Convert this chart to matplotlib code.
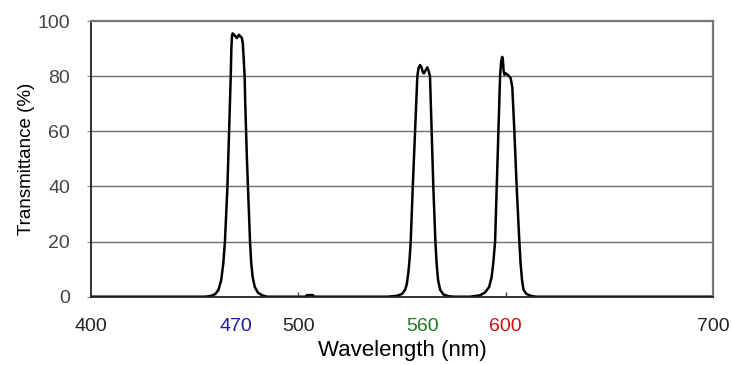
import matplotlib
matplotlib.use('Agg')
import matplotlib.pyplot as plt

# transmittance curve (nm, %)
wavelength = [400, 455,
              458, 460, 461.5, 462.8, 463.8, 464.6, 465.2, 465.8, 466.2, 466.6,
              467.0, 467.4, 467.7, 468.0, 468.3, 469.0, 469.6, 470.3, 471.0, 471.4,
              472.0, 472.7, 473.2, 473.6, 474.1, 474.4, 474.8, 475.2, 475.7, 476.2,
              476.7, 477.3, 478.0, 479.0, 480.5, 482.5, 485.0,
              503.5, 504.2, 507.0, 507.6,
              543, 547.5, 550, 551.5, 552.3, 553.1, 553.7, 554.2, 555.2, 556.3,
              557.4, 558.0, 558.7, 559.3, 560.0, 560.6, 561.3, 562.2, 562.8, 563.5,
              564.3, 565.1, 566.1, 566.7, 567.4, 568.4, 570, 572.4, 575,
              583, 587.6, 590, 592.0, 593.2, 594.0, 594.9, 595.7, 596.5, 597.3,
              597.8, 598.3, 598.6, 599.0, 599.4, 600.0, 601.3, 602.4, 603.2, 603.7,
              604.2, 605.3, 606.6, 607.2, 607.9, 608.6, 610, 612.6, 615,
              700]
transmittance = [0, 0,
                 0.3, 1.0, 2.5, 6, 12, 20, 30, 40, 50, 60,
                 70, 80, 90, 94.5, 95.5, 95.0, 94.5, 93.8, 94.6, 95.0,
                 94.4, 94.0, 92, 87, 80, 70, 60, 50, 40, 30,
                 20, 12, 7, 3.5, 1.5, 0.5, 0,
                 0, 0.6, 0.6, 0,
                 0, 0.3, 1, 2.5, 4.5, 9, 14, 20, 40, 60,
                 80, 83, 84, 83.5, 81.5, 81, 82, 83.2, 82, 80,
                 60, 40, 20, 12, 6, 2.5, 0.8, 0.2, 0,
                 0, 0.5, 1.5, 3.5, 7, 12, 20, 40, 60, 80,
                 85, 87, 86.5, 82, 80.5, 81, 80.3, 79.3, 76, 68,
                 60, 40, 20, 12, 6, 2.5, 1, 0.2, 0,
                 0]

x_ticks = [400, 470, 500, 560, 600, 700]
x_tick_colors = ['#222222', '#1c1c9c', '#222222', '#1e7b1e', '#cc1111', '#222222']
y_ticks = [0, 20, 40, 60, 80, 100]

plt.rcParams['font.family'] = ['Liberation Sans', 'DejaVu Sans']

fig = plt.figure(figsize=(7.32, 3.65), dpi=100)
ax = fig.add_axes([91 / 732, 1 - 296.7 / 365, (713 - 91) / 732, (296.7 - 21) / 365])

ax.plot(wavelength, transmittance, color='black', linewidth=1.8)

ax.set_xlim(400, 700)
ax.set_ylim(0, 100)

for y in [20, 40, 60, 80]:
    ax.axhline(y, color='#6e6e6e', linewidth=1.0, zorder=0)

ax.set_xticks(x_ticks)
ax.set_xticklabels([str(t) for t in x_ticks], fontsize=14)
for lab, c in zip(ax.get_xticklabels(), x_tick_colors):
    lab.set_color(c)
ax.tick_params(axis='x', direction='in', length=0, pad=15)

ax.set_yticks(y_ticks)
ax.set_yticklabels([str(t) for t in y_ticks], fontsize=14, color='#444444')
ax.tick_params(axis='y', direction='out', length=3, color='#888888', pad=12)

# small inward tick marks on the bottom axis
ax.vlines([500, 600], 0, 1.8, color='#444444', linewidth=1.0)

for s in ['left', 'bottom']:
    ax.spines[s].set_color('#222222')
    ax.spines[s].set_linewidth(1.3)
for s in ['top', 'right']:
    ax.spines[s].set_color('#777777')
    ax.spines[s].set_linewidth(1.6)

ax.set_xlabel('Wavelength (nm)', fontsize=16, labelpad=4)
ax.set_ylabel('Transmittance (%)', fontsize=13.5, labelpad=2)

fig.savefig('out.png', dpi=100)
